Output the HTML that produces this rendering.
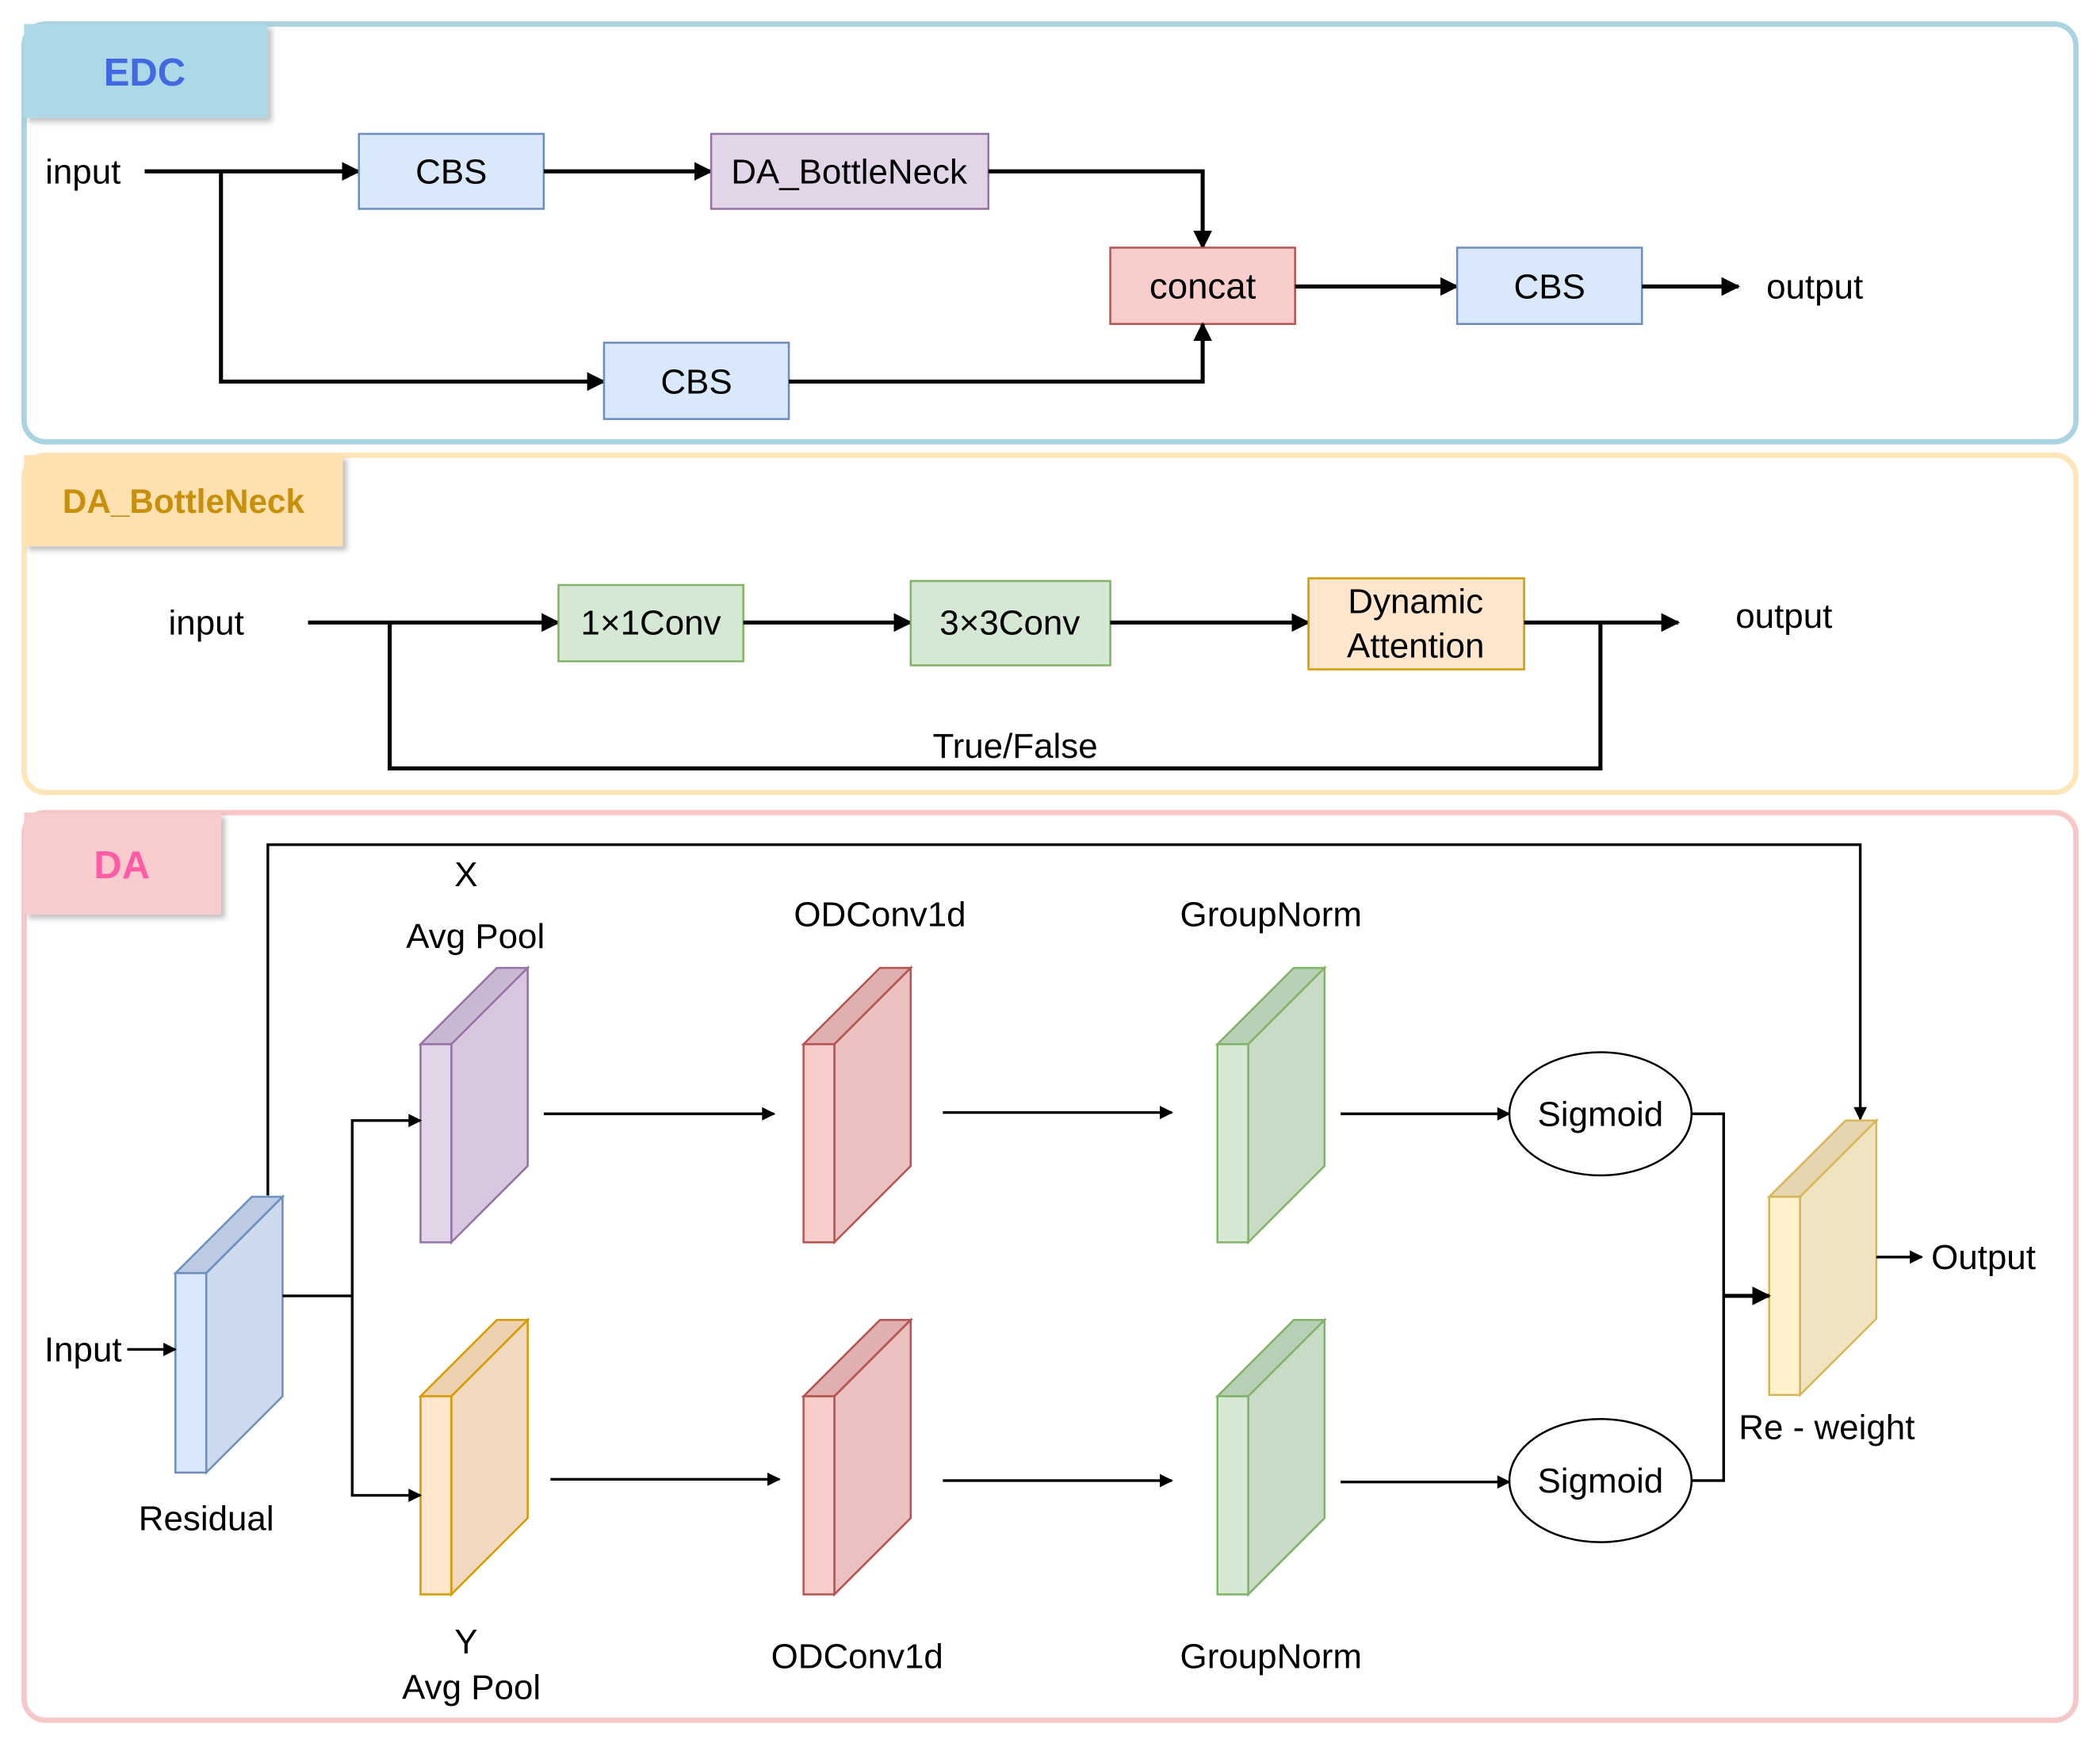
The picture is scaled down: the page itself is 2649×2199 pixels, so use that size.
<!DOCTYPE html>
<html><head><meta charset="utf-8"><style>
html,body{margin:0;padding:0;background:#fff;}
svg{display:block;}
text{font-family:"Liberation Sans",Arial,sans-serif;}
</style></head><body>
<svg width="2649" height="2199" viewBox="0 0 1568 1302" preserveAspectRatio="none" xmlns="http://www.w3.org/2000/svg">
<defs>
<marker id="a" viewBox="0 0 10 10" refX="9" refY="5" markerWidth="11" markerHeight="10" orient="auto" markerUnits="userSpaceOnUse"><path d="M0,0 L10,5 L0,10 z" fill="#000"/></marker>
<marker id="b" viewBox="0 0 10 10" refX="9" refY="5" markerWidth="14" markerHeight="14" orient="auto" markerUnits="userSpaceOnUse"><path d="M0,0 L10,5 L0,10 z" fill="#000"/></marker>
<filter id="sh"><feDropShadow dx="3" dy="3" stdDeviation="2" flood-opacity="0.25"/></filter>
</defs>
<rect x="18" y="18" width="1532" height="312" rx="16" fill="#fff" stroke="#a9d4e0" stroke-width="4"/>
<rect x="18" y="18" width="182" height="70" fill="#add8e6" filter="url(#sh)"/>
<text x="108" y="64" font-size="29" font-weight="bold" fill="#4169e1" text-anchor="middle">EDC</text>

<rect x="18" y="340" width="1532" height="252" rx="16" fill="#fff" stroke="#ffe6b8" stroke-width="4"/>
<rect x="18" y="340" width="238" height="68" fill="#ffe0b0" filter="url(#sh)"/>
<text x="137" y="383" font-size="25" font-weight="bold" fill="#c8900a" text-anchor="middle">DA_BottleNeck</text>

<rect x="18" y="607" width="1532" height="678" rx="16" fill="#fff" stroke="#f8c8c8" stroke-width="4"/>
<rect x="18" y="607" width="147" height="76" fill="#f8cccc" filter="url(#sh)"/>
<text x="91" y="656" font-size="29" font-weight="bold" fill="#ff5ca8" text-anchor="middle">DA</text>

<g font-size="26" text-anchor="middle">
<text x="62" y="137">input</text>
<path d="M108,128 H268" stroke="#000" stroke-width="3" fill="none" marker-end="url(#b)"/>
<rect x="268" y="100" width="138" height="56" fill="#dae8fc" stroke="#6c8ebf" stroke-width="1.5"/>
<text x="337" y="137">CBS</text>
<path d="M406,128 H531" stroke="#000" stroke-width="3" fill="none" marker-end="url(#b)"/>
<rect x="531" y="100" width="207" height="56" fill="#e1d5e7" stroke="#9673a6" stroke-width="1.5"/>
<text x="634" y="137">DA_BottleNeck</text>
<path d="M738,128 H898 V185" stroke="#000" stroke-width="3" fill="none" marker-end="url(#b)"/>
<rect x="829" y="185" width="138" height="57" fill="#f8cecc" stroke="#b85450" stroke-width="1.5"/>
<text x="898" y="223" font-size="27">concat</text>
<path d="M967,214 H1088" stroke="#000" stroke-width="3" fill="none" marker-end="url(#b)"/>
<rect x="1088" y="185" width="138" height="57" fill="#dae8fc" stroke="#6c8ebf" stroke-width="1.5"/>
<text x="1157" y="223">CBS</text>
<path d="M1226,214 H1298" stroke="#000" stroke-width="3" fill="none" marker-end="url(#b)"/>
<text x="1355" y="223">output</text>
<path d="M165,128 V285 H451" stroke="#000" stroke-width="3" fill="none" marker-end="url(#b)"/>
<rect x="451" y="256" width="138" height="57" fill="#dae8fc" stroke="#6c8ebf" stroke-width="1.5"/>
<text x="520" y="294">CBS</text>
<path d="M589,285 H898 V242" stroke="#000" stroke-width="3" fill="none" marker-end="url(#b)"/>

<text x="154" y="474">input</text>
<path d="M230,465 H417" stroke="#000" stroke-width="3" fill="none" marker-end="url(#b)"/>
<rect x="417" y="437" width="138" height="57" fill="#d5e8d4" stroke="#82b366" stroke-width="1.5"/>
<text x="486" y="474">1×1Conv</text>
<path d="M555,465 H680" stroke="#000" stroke-width="3" fill="none" marker-end="url(#b)"/>
<rect x="680" y="434" width="149" height="63" fill="#d5e8d4" stroke="#82b366" stroke-width="1.5"/>
<text x="754" y="474">3×3Conv</text>
<path d="M829,465 H977" stroke="#000" stroke-width="3" fill="none" marker-end="url(#b)"/>
<rect x="977" y="432" width="161" height="68" fill="#ffe6cc" stroke="#d79b00" stroke-width="1.5"/>
<text x="1057" y="458">Dynamic</text>
<text x="1057" y="491">Attention</text>
<path d="M1138,465 H1253" stroke="#000" stroke-width="3" fill="none" marker-end="url(#b)"/>
<text x="1332" y="469">output</text>
<path d="M291,465 V574 H1195 V465" stroke="#000" stroke-width="3" fill="none"/>
<text x="758" y="566">True/False</text>

<path d="M200,893 V631 H1389 V836" stroke="#000" stroke-width="2" fill="none" marker-end="url(#a)"/>
<text x="348" y="662">X</text>
<text x="355" y="708">Avg Pool</text>
<text x="657" y="692">ODConv1d</text>
<text x="949" y="692">GroupNorm</text>
<text x="154" y="1143">Residual</text>
<text x="348" y="1235">Y</text>
<text x="352" y="1269">Avg Pool</text>
<text x="640" y="1246">ODConv1d</text>
<text x="949" y="1246">GroupNorm</text>
<text x="1364" y="1075">Re - weight</text>
<text x="1481" y="948">Output</text>
<text x="62" y="1017">Input</text>
</g>

<g stroke-width="1.5">
<g stroke="#6c8ebf"><polygon points="131,951 154,951 211,894 188,894" fill="#bccbe2"/><polygon points="154,951 211,894 211,1043 154,1100" fill="#cddaee"/><rect x="131" y="951" width="23" height="149" fill="#dae8fc"/></g>
<g stroke="#9673a6"><polygon points="314,780 337,780 394,723 371,723" fill="#c9b8d2"/><polygon points="337,780 394,723 394,871 337,928" fill="#d8c8df"/><rect x="314" y="780" width="23" height="148" fill="#e1d5e7"/></g>
<g stroke="#d79b00"><polygon points="314,1043 337,1043 394,986 371,986" fill="#ecd2b0"/><polygon points="337,1043 394,986 394,1134 337,1191" fill="#f2dac0"/><rect x="314" y="1043" width="23" height="148" fill="#ffe6cc"/></g>
<g stroke="#b85450"><polygon points="600,780 623,780 680,723 657,723" fill="#e0b0b0"/><polygon points="623,780 680,723 680,871 623,928" fill="#eac0c0"/><rect x="600" y="780" width="23" height="148" fill="#f8cecc"/></g>
<g stroke="#b85450"><polygon points="600,1043 623,1043 680,986 657,986" fill="#e0b0b0"/><polygon points="623,1043 680,986 680,1134 623,1191" fill="#eac0c0"/><rect x="600" y="1043" width="23" height="148" fill="#f8cecc"/></g>
<g stroke="#82b366"><polygon points="909,780 932,780 989,723 966,723" fill="#b8d0b6"/><polygon points="932,780 989,723 989,871 932,928" fill="#c8dbc6"/><rect x="909" y="780" width="23" height="148" fill="#d5e8d4"/></g>
<g stroke="#82b366"><polygon points="909,1043 932,1043 989,986 966,986" fill="#b8d0b6"/><polygon points="932,1043 989,986 989,1134 932,1191" fill="#c8dbc6"/><rect x="909" y="1043" width="23" height="148" fill="#d5e8d4"/></g>
<g stroke="#d6b656"><polygon points="1321,894 1344,894 1401,837 1378,837" fill="#e6d6b0"/><polygon points="1344,894 1401,837 1401,985 1344,1042" fill="#f0e4c0"/><rect x="1321" y="894" width="23" height="148" fill="#fff2cc"/></g>
</g>

<g stroke="#000" stroke-width="2" fill="none">
<path d="M95,1008 H131" marker-end="url(#a)"/>
<path d="M211,968 H263"/>
<path d="M263,968 V837 H314" marker-end="url(#a)"/>
<path d="M263,968 V1117 H314" marker-end="url(#a)"/>
<path d="M406,832 H578" marker-end="url(#a)"/>
<path d="M704,831 H875" marker-end="url(#a)"/>
<path d="M1001,832 H1127" marker-end="url(#a)"/>
<path d="M411,1105 H582" marker-end="url(#a)"/>
<path d="M704,1106 H875" marker-end="url(#a)"/>
<path d="M1001,1107 H1127" marker-end="url(#a)"/>
<path d="M1263,832 H1287 V1106 H1263"/>
<path d="M1287,968 H1321" marker-end="url(#b)" stroke-width="3"/>
<path d="M1401,939 H1435" marker-end="url(#a)"/>
</g>
<ellipse cx="1195" cy="832" rx="68" ry="46" fill="#fff" stroke="#000" stroke-width="1.5"/>
<ellipse cx="1195" cy="1106" rx="68" ry="46" fill="#fff" stroke="#000" stroke-width="1.5"/>
<g font-size="26" text-anchor="middle">
<text x="1195" y="841">Sigmoid</text>
<text x="1195" y="1115">Sigmoid</text>
</g>
</svg>
</body></html>
